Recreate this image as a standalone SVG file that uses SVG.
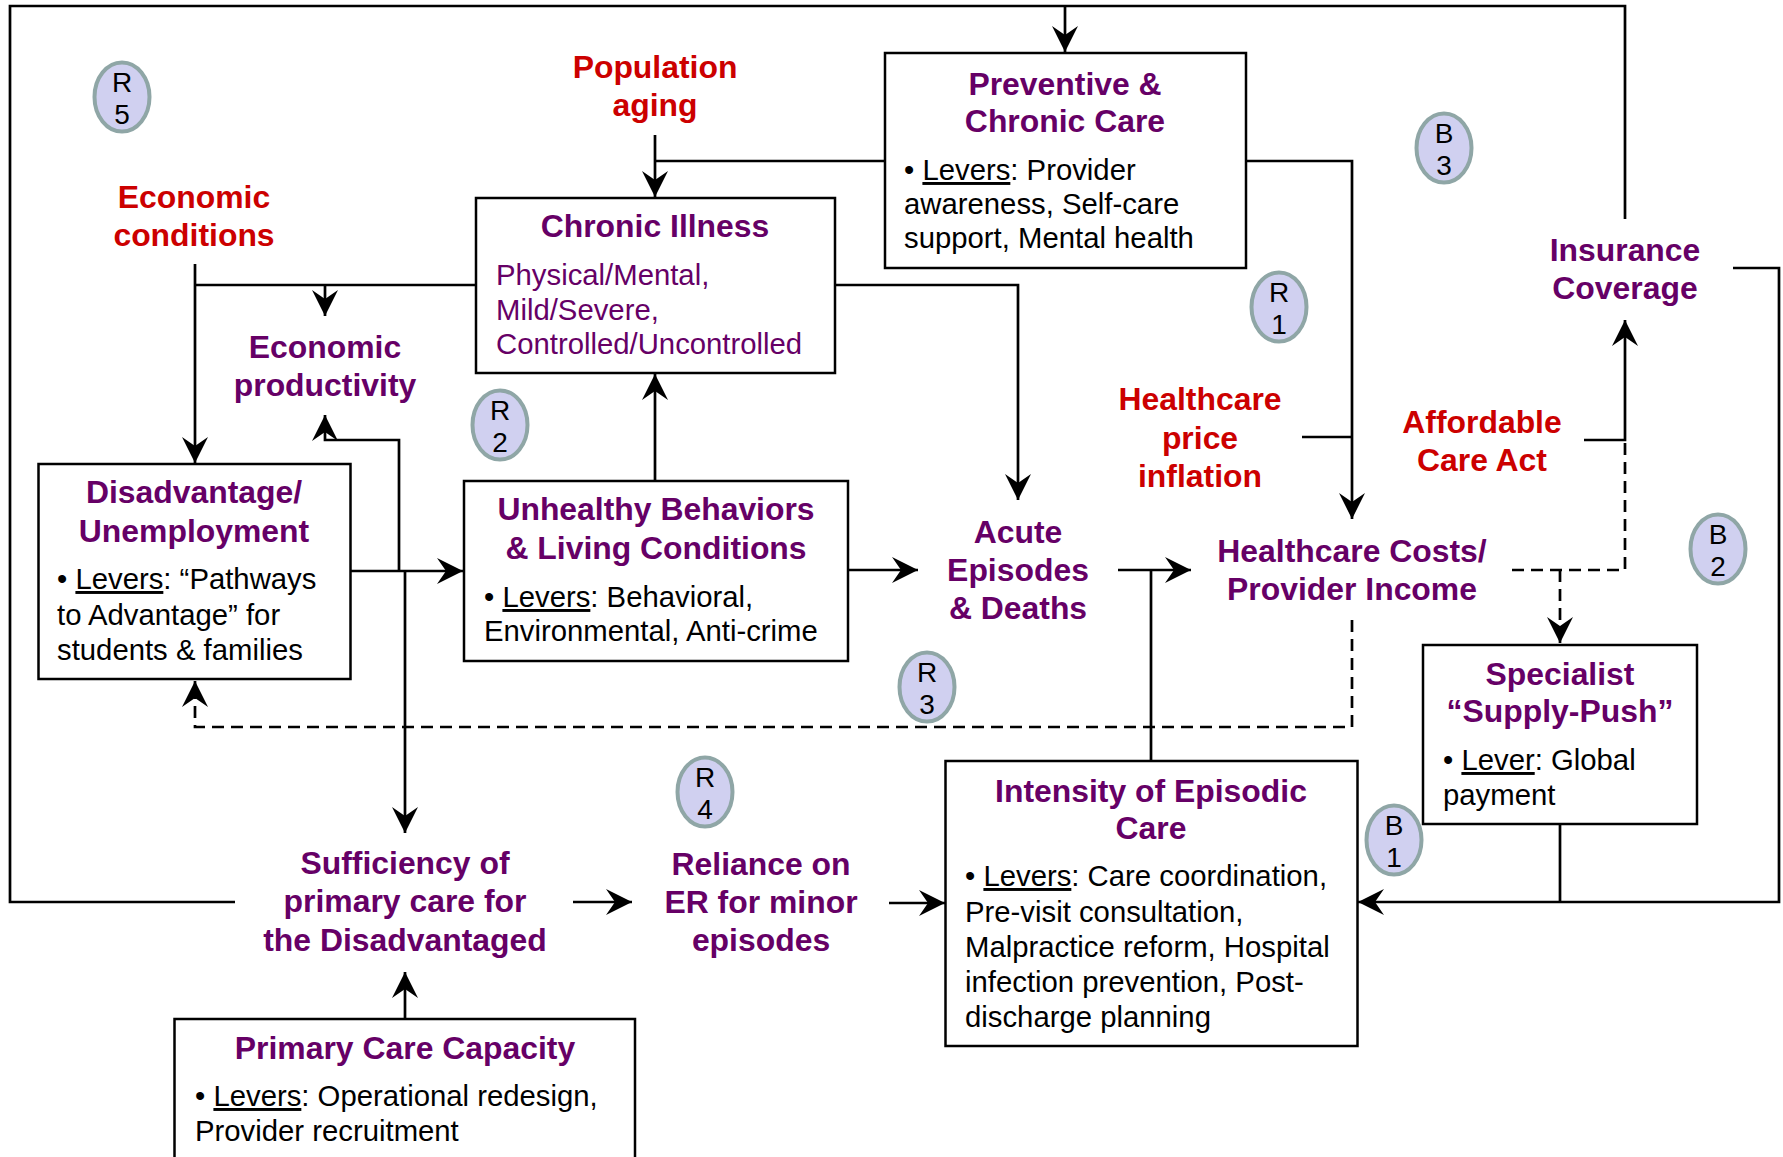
<svg xmlns="http://www.w3.org/2000/svg" width="1783" height="1157" viewBox="0 0 1783 1157">
<style>
.t{font-family:"Liberation Sans",Arial,sans-serif;font-weight:bold;font-size:31.9px;fill:#660066;text-anchor:middle}
.r{font-family:"Liberation Sans",Arial,sans-serif;font-weight:bold;font-size:31.9px;fill:#CC0000;text-anchor:middle}
.b{font-family:"Liberation Sans",Arial,sans-serif;font-size:29.3px;fill:#000}
.bp{font-family:"Liberation Sans",Arial,sans-serif;font-size:29.3px;fill:#660066}
.c{font-family:"Liberation Sans",Arial,sans-serif;font-size:28px;fill:#000;text-anchor:middle}
.box{fill:#fff;stroke:#000;stroke-width:2.5}
.loop{fill:#D0D0F0;stroke:#8FA6A6;stroke-width:4}
.ln{fill:none;stroke:#000;stroke-width:2.7}
.ds{fill:none;stroke:#000;stroke-width:2.7;stroke-dasharray:12 7}
.u{text-decoration:underline}
</style>
<defs>
<marker id="ah" markerUnits="userSpaceOnUse" markerWidth="28" markerHeight="28" refX="26" refY="13" orient="auto" overflow="visible">
<path d="M0,0 L26,13 L0,26 L9,13 Z" fill="#000"/>
</marker>
</defs>
<rect width="1783" height="1157" fill="#fff"/>

<g id="connectors">
<path class="ln" d="M655,135 V197" marker-end="url(#ah)"/>
<path class="ln" d="M885,161 H655"/>
<path class="ln" d="M1246,161 H1352 V519" marker-end="url(#ah)"/>
<path class="ln" d="M1302,437 H1352"/>
<path class="ln" d="M476,285 H195"/>
<path class="ln" d="M195,264 V463" marker-end="url(#ah)"/>
<path class="ln" d="M325,285 V316" marker-end="url(#ah)"/>
<path class="ln" d="M835,285 H1018 V500" marker-end="url(#ah)"/>
<path class="ln" d="M655,481 V374" marker-end="url(#ah)"/>
<path class="ln" d="M351,571 H463" marker-end="url(#ah)"/>
<path class="ln" d="M399,571 V440 H325 V415" marker-end="url(#ah)"/>
<path class="ln" d="M405,571 V833" marker-end="url(#ah)"/>
<path class="ln" d="M848,570 H918" marker-end="url(#ah)"/>
<path class="ln" d="M1118,570 H1191" marker-end="url(#ah)"/>
<path class="ln" d="M1151,761 V570"/>
<path class="ds" d="M1352,620 V727 H195 V690"/>
<path class="ln" d="M195,686 V681" marker-end="url(#ah)"/>
<path class="ds" d="M1512,570 H1625 V440"/>
<path class="ds" d="M1560,570 V636"/>
<path class="ln" d="M1560,636 V643" marker-end="url(#ah)"/>
<path class="ln" d="M1584,440 H1625 V320" marker-end="url(#ah)"/>
<path class="ln" d="M1733,268 H1779 V902 H1358" marker-end="url(#ah)"/>
<path class="ln" d="M1560,824 V902"/>
<path class="ln" d="M1625,219 V6 H10 V902 H235"/>
<path class="ln" d="M1065,6 V52" marker-end="url(#ah)"/>
<path class="ln" d="M573,902 H632" marker-end="url(#ah)"/>
<path class="ln" d="M889,903 H945" marker-end="url(#ah)"/>
<path class="ln" d="M405,1019 V972" marker-end="url(#ah)"/>
</g>

<g id="preventive">
<rect class="box" x="885" y="53" width="361" height="215"/>
<text class="t" x="1065" y="95">Preventive &amp;</text>
<text class="t" x="1065" y="132">Chronic Care</text>
<text class="b" x="904" y="180">• <tspan class="u">Levers</tspan>: Provider</text>
<text class="b" x="904" y="214">awareness, Self-care</text>
<text class="b" x="904" y="248">support, Mental health</text>
</g>

<g id="chronic-illness">
<rect class="box" x="476" y="198" width="359" height="175"/>
<text class="t" x="655" y="237">Chronic Illness</text>
<text class="bp" x="496" y="285">Physical/Mental,</text>
<text class="bp" x="496" y="320">Mild/Severe,</text>
<text class="bp" x="496" y="354">Controlled/Uncontrolled</text>
</g>

<g id="disadvantage">
<rect class="box" x="38.5" y="464" width="312" height="215"/>
<text class="t" x="194" y="503">Disadvantage/</text>
<text class="t" x="194" y="542">Unemployment</text>
<text class="b" x="57" y="589">• <tspan class="u">Levers</tspan>: “Pathways</text>
<text class="b" x="57" y="625">to Advantage” for</text>
<text class="b" x="57" y="660">students &amp; families</text>
</g>

<g id="unhealthy">
<rect class="box" x="464" y="481" width="384" height="180"/>
<text class="t" x="656" y="520">Unhealthy Behaviors</text>
<text class="t" x="656" y="559">&amp; Living Conditions</text>
<text class="b" x="484" y="607">• <tspan class="u">Levers</tspan>: Behavioral,</text>
<text class="b" x="484" y="641">Environmental, Anti-crime</text>
</g>

<g id="specialist">
<rect class="box" x="1423" y="645" width="274" height="179"/>
<text class="t" x="1560" y="685">Specialist</text>
<text class="t" x="1560" y="722">“Supply-Push”</text>
<text class="b" x="1443" y="770">• <tspan class="u">Lever</tspan>: Global</text>
<text class="b" x="1443" y="805">payment</text>
</g>

<g id="intensity">
<rect class="box" x="945.5" y="761" width="412" height="285"/>
<text class="t" x="1151" y="802">Intensity of Episodic</text>
<text class="t" x="1151" y="839">Care</text>
<text class="b" x="965" y="886">• <tspan class="u">Levers</tspan>: Care coordination,</text>
<text class="b" x="965" y="922">Pre-visit consultation,</text>
<text class="b" x="965" y="957">Malpractice reform, Hospital</text>
<text class="b" x="965" y="992">infection prevention, Post-</text>
<text class="b" x="965" y="1027">discharge planning</text>
</g>

<g id="primary-capacity">
<rect class="box" x="174.5" y="1019" width="460.5" height="160"/>
<text class="t" x="405" y="1059">Primary Care Capacity</text>
<text class="b" x="195" y="1106">• <tspan class="u">Levers</tspan>: Operational redesign,</text>
<text class="b" x="195" y="1141">Provider recruitment</text>
</g>

<g id="population-aging">
<text class="r" x="655" y="78">Population</text>
<text class="r" x="655" y="116">aging</text>
</g>
<g id="economic-conditions">
<text class="r" x="194" y="208">Economic</text>
<text class="r" x="194" y="246">conditions</text>
</g>
<g id="economic-productivity">
<text class="t" x="325" y="358">Economic</text>
<text class="t" x="325" y="396">productivity</text>
</g>
<g id="price-inflation">
<text class="r" x="1200" y="410">Healthcare</text>
<text class="r" x="1200" y="449">price</text>
<text class="r" x="1200" y="487">inflation</text>
</g>
<g id="aca">
<text class="r" x="1482" y="433">Affordable</text>
<text class="r" x="1482" y="471">Care Act</text>
</g>
<g id="insurance">
<text class="t" x="1625" y="261">Insurance</text>
<text class="t" x="1625" y="299">Coverage</text>
</g>
<g id="acute">
<text class="t" x="1018" y="543">Acute</text>
<text class="t" x="1018" y="581">Episodes</text>
<text class="t" x="1018" y="619">&amp; Deaths</text>
</g>
<g id="costs">
<text class="t" x="1352" y="562">Healthcare Costs/</text>
<text class="t" x="1352" y="600">Provider Income</text>
</g>
<g id="sufficiency">
<text class="t" x="405" y="874">Sufficiency of</text>
<text class="t" x="405" y="912">primary care for</text>
<text class="t" x="405" y="951">the Disadvantaged</text>
</g>
<g id="reliance">
<text class="t" x="761" y="875">Reliance on</text>
<text class="t" x="761" y="913">ER for minor</text>
<text class="t" x="761" y="951">episodes</text>
</g>

<g id="loop-R5"><ellipse class="loop" cx="122" cy="97" rx="27.5" ry="34.5"/><text class="c" x="122" y="92">R</text><text class="c" x="122" y="124">5</text></g>
<g id="loop-B3"><ellipse class="loop" cx="1444" cy="148" rx="27.5" ry="34.5"/><text class="c" x="1444" y="143">B</text><text class="c" x="1444" y="175">3</text></g>
<g id="loop-R1"><ellipse class="loop" cx="1279" cy="307" rx="27.5" ry="34.5"/><text class="c" x="1279" y="302">R</text><text class="c" x="1279" y="334">1</text></g>
<g id="loop-R2"><ellipse class="loop" cx="500" cy="425" rx="27.5" ry="34.5"/><text class="c" x="500" y="420">R</text><text class="c" x="500" y="452">2</text></g>
<g id="loop-B2"><ellipse class="loop" cx="1718" cy="549" rx="27.5" ry="34.5"/><text class="c" x="1718" y="544">B</text><text class="c" x="1718" y="576">2</text></g>
<g id="loop-R3"><ellipse class="loop" cx="927" cy="687" rx="27.5" ry="34.5"/><text class="c" x="927" y="682">R</text><text class="c" x="927" y="714">3</text></g>
<g id="loop-R4"><ellipse class="loop" cx="705" cy="792" rx="27.5" ry="34.5"/><text class="c" x="705" y="787">R</text><text class="c" x="705" y="819">4</text></g>
<g id="loop-B1"><ellipse class="loop" cx="1394" cy="840" rx="27.5" ry="34.5"/><text class="c" x="1394" y="835">B</text><text class="c" x="1394" y="867">1</text></g>
</svg>
